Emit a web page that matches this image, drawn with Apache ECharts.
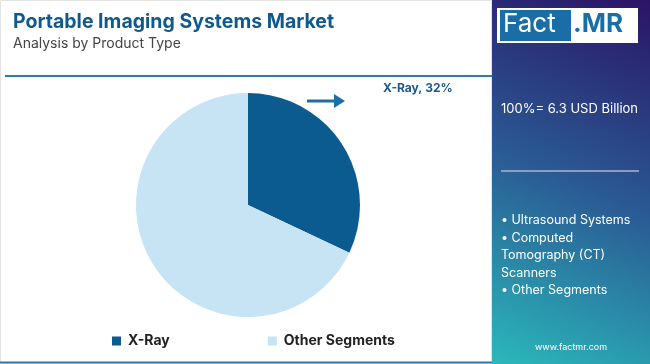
<!DOCTYPE html>
<html><head><meta charset="utf-8">
<script src="https://cdn.jsdelivr.net/npm/echarts@6/dist/echarts.min.js"></script>
<style>html,body{margin:0;padding:0;background:#fff}#c{width:650px;height:364px}</style>
</head><body><div id="c"></div>
<script>
const categories = ['X-Ray', 'Other Segments'];
const values = [32, 68];
const colors = ['#0b5b91', '#c6e4f3'];
const sideItems = ['• Ultrasound Systems', '• Computed', 'Tomography (CT)', 'Scanners', '• Other Segments'];
const totalText = '100%= 6.3 USD Billion';
const FF = 'Inter, "Noto Sans", sans-serif';

const chart = echarts.init(document.getElementById('c'));
const g = [];
g.push({type:'rect', shape:{x:0.5,y:0.5,width:491,height:363}, style:{fill:'#fff', stroke:'#e3e3e3', lineWidth:1}, z:-1});
g.push({type:'rect', shape:{x:492,y:0,width:158,height:364}, style:{fill:new echarts.graphic.LinearGradient(1,0,0,1,[{offset:0,color:'#2b1466'},{offset:0.5,color:'#2a5a94'},{offset:1,color:'#2bb8bb'}])}, z:0});
// logo
g.push({type:'rect', shape:{x:497,y:8,width:141,height:35}, style:{fill:'#fff'}, z:1});
g.push({type:'rect', shape:{x:500,y:10,width:71,height:31}, style:{fill:'#1a6ea8'}, z:2});
g.push({type:'text', left:503, top:11, style:{text:'Fact', fill:'#fff', font:'400 26px '+FF}, z:3});
g.push({type:'text', left:573, top:11, style:{text:'.MR', fill:'#1a6ea8', font:'700 26px '+FF}, z:3});
// title
g.push({type:'text', left:13, top:12, style:{text:'Portable Imaging Systems Market', fill:'#0e5a8e', font:'700 19.5px '+FF}});
g.push({type:'text', left:13, top:37, style:{text:'Analysis by Product Type', fill:'#444', font:'400 14px '+FF}});
g.push({type:'line', shape:{x1:5,y1:76,x2:492,y2:76}, style:{stroke:'#2d7bb0', lineWidth:2}});
g.push({type:'line', shape:{x1:0,y1:362.5,x2:492,y2:362.5}, style:{stroke:'#2d7bb0', lineWidth:2}});
// arrow
g.push({type:'line', shape:{x1:307,y1:101,x2:337,y2:101}, style:{stroke:'#1e6ea6', lineWidth:3}});
g.push({type:'polygon', shape:{points:[[334,94],[345,101],[334,108]]}, style:{fill:'#1e6ea6'}});
g.push({type:'text', left:383, top:82, style:{text:categories[0]+', '+values[0]+'%', fill:'#1a5a8e', font:'700 12px '+FF}});
// right texts
g.push({type:'text', left:501, top:103, style:{text:totalText, fill:'#fff', font:'400 13px '+FF}, z:3});
g.push({type:'line', shape:{x1:501,y1:171,x2:639,y2:171}, style:{stroke:'#a9b6d6', lineWidth:1.5}, z:3});
sideItems.forEach((t,i)=>{
  g.push({type:'text', left:501, top:214+i*17.5, style:{text:t, fill:'#fff', font:'400 12.5px '+FF}, z:3});
});
g.push({type:'text', left:535, top:343, style:{text:'www.factmr.com', fill:'#fff', font:'400 9px '+FF}, z:3});

chart.setOption({
  animation:false,
  color: colors,
  legend:{
    left:107, top:329, itemWidth:9, itemHeight:9, itemGap:98, icon:'rect',
    textStyle:{fontFamily:FF, fontWeight:700, fontSize:14, color:'#222', padding:[0,0,0,2]},
    data: categories
  },
  graphic: g,
  series:[{
    type:'pie', center:[248,205], radius:[0,112], startAngle:90, clockwise:true,
    label:{show:false}, labelLine:{show:false}, silent:true,
    itemStyle:{borderWidth:0},
    data: categories.map((c,i)=>({name:c, value:values[i]}))
  }]
});
</script></body></html>
